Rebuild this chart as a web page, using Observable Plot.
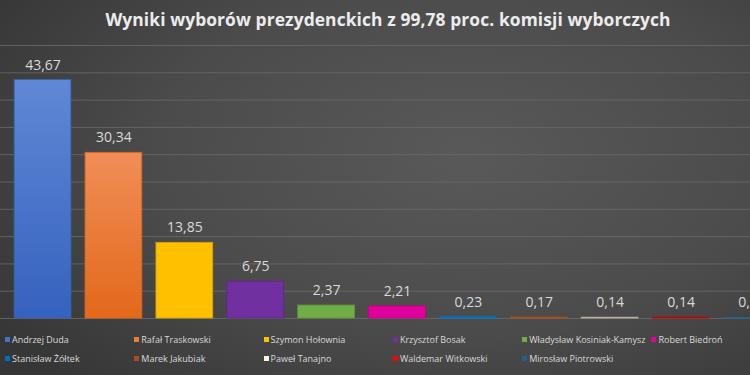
<!DOCTYPE html>
<html>
<head>
<meta charset="utf-8">
<script src="https://cdn.jsdelivr.net/npm/d3@7"></script>
<script src="https://cdn.jsdelivr.net/npm/@observablehq/plot@0.6"></script>
<style>
  html, body { margin: 0; padding: 0; width: 750px; height: 375px; overflow: hidden; background: #3c3c3c; }
  #wrap {
    position: relative; width: 750px; height: 375px; overflow: hidden;
    background: radial-gradient(ellipse 75% 85% at 62% 42%, #595959 0%, #4b4b4b 55%, #363636 100%);
    font-family: "Open Sans", sans-serif;
  }
  #title {
    position: absolute; left: 0; top: 7px; width: 776px; text-align: center;
    color: #ececec; font-weight: 700; font-size: 17.4px; letter-spacing: 0.1px;
  }
  #chart { position: absolute; left: 0; top: 0; width: 794px; height: 375px; }
  #chart svg { max-width: none !important; width: 794px !important; height: 375px !important; }
  #legend {
    position: absolute; left: 5px; top: 332px;
    display: grid; grid-template-columns: repeat(6, 129.3px); row-gap: 5px;
    color: #d9d9d9; font-size: 9px;
  }
  .item { display: flex; align-items: center; white-space: nowrap; height: 14px; }
  .sw { width: 5px; height: 5px; margin-right: 2px; flex: none; }
</style>
</head>
<body>
<div id="wrap">
  <div id="chart"></div>
  <div id="title"></div>
  <div id="legend"></div>
</div>
<script>
const title = "Wyniki wyborów prezydenckich z 99,78 proc. komisji wyborczych";
const candidates = [
  "Andrzej Duda", "Rafał Traskowski", "Szymon Hołownia", "Krzysztof Bosak",
  "Władysław Kosiniak-Kamysz", "Robert Biedroń", "Stanisław Żółtek",
  "Marek Jakubiak", "Paweł Tanajno", "Waldemar Witkowski", "Mirosław Piotrowski"
];
const values = [43.67, 30.34, 13.85, 6.75, 2.37, 2.21, 0.23, 0.17, 0.14, 0.14, 0.11];
const colors = [
  "#4472C4", "#ED7D31", "#FFC000", "#7030A0", "#70AD47", "#E0009C",
  "#0070C0", "#A5501A", "#FFF2CC", "#FF0000", "#255E91"
];
const barStrokes = [
  "#3a62b0", "#d8681e", "#d9a000", "#5e2888", "#5e9638", "#c0008a",
  "#0070C0", "#A5501A", "#b8b09a", "#C00000", "#255E91"
];
const gridTicks = [0, 5, 10, 15, 20, 25, 30, 35, 40, 45, 50];

const data = candidates.map((name, i) => ({name, value: values[i], color: colors[i], stroke: barStrokes[i], i}));
const fillFor = d => d.i === 0 ? "url(#gDuda)" : d.i === 1 ? "url(#gTrz)" : d.color;
const fmt = v => v.toFixed(2).replace(".", ",");

const chart = Plot.plot({
  width: 794,
  height: 375,
  marginTop: 45,
  marginBottom: 57,
  marginLeft: 0,
  marginRight: 0,
  style: {background: "transparent", overflow: "visible", fontFamily: "Open Sans, sans-serif"},
  x: {domain: candidates, padding: 0.2, round: false, axis: null},
  y: {domain: [0, 50], axis: null},
  color: {type: "identity"},
  marks: [
    Plot.ruleY(gridTicks, {stroke: "#6a6a6a", strokeWidth: 1, strokeOpacity: 0.8}),
    Plot.barY(data, {x: "name", y: "value", fill: fillFor, stroke: "stroke", strokeWidth: 0.9}),
    Plot.text(data, {x: "name", y: "value", text: d => fmt(d.value), dy: -15, fill: "#d9d9d9", fontSize: 14})
  ]
});

const svg = d3.select(chart);
const defs = svg.insert("defs", ":first-child");
const g1 = defs.append("linearGradient").attr("id", "gDuda").attr("x1", 0).attr("y1", 0).attr("x2", 0).attr("y2", 1);
g1.append("stop").attr("offset", "0%").attr("stop-color", "#6088d6");
g1.append("stop").attr("offset", "100%").attr("stop-color", "#3562be");
const g2 = defs.append("linearGradient").attr("id", "gTrz").attr("x1", 0).attr("y1", 0).attr("x2", 0).attr("y2", 1);
g2.append("stop").attr("offset", "0%").attr("stop-color", "#f08e58");
g2.append("stop").attr("offset", "100%").attr("stop-color", "#e3681a");

document.getElementById("chart").appendChild(chart);
document.getElementById("title").textContent = title;

const legend = d3.select("#legend");
candidates.forEach((name, i) => {
  const item = legend.append("div").attr("class", "item");
  item.append("span").attr("class", "sw").style("background", colors[i]);
  item.append("span").text(name);
});
</script>
</body>
</html>
